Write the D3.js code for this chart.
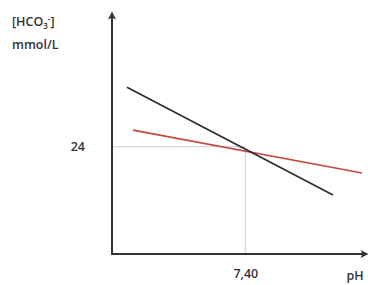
<!DOCTYPE html>
<html>
<head>
<meta charset="utf-8">
<script src="https://cdn.jsdelivr.net/npm/d3@7"></script>
<style>
  body { margin: 0; background: #fff; }
  text { font-family: "Open Sans", sans-serif; fill: #333; font-weight: 600; }
</style>
</head>
<body>
<svg></svg>
<script>
const width = 368,
      height = 285,
      margin = {top: 17, right: 6, bottom: 31, left: 112};

// pH / bicarbonate lines
const blackLine = [[7.045, 37.3], [7.663, 13.2]];
const redLine = [[7.063, 27.7], [7.75, 18.1]];
const refPH = [7.40];
const refHCO3 = [24];

const svg = d3.select("svg")
              .attr("width", width)
              .attr("height", height);

// x runs a little short of the arrow tip
let x = d3.scaleLinear()
          .domain([7.0, 7.75])
          .range([margin.left, 362]);

let y = d3.scaleLinear()
          .domain([0, 53])
          .range([height - margin.bottom, margin.top]);

const comma = d3.formatLocale({decimal: ",", thousands: ".", grouping: [3], currency: ["", ""]});

// arrow heads
svg.append("defs").append("marker")
    .attr("id", "arrow")
    .attr("viewBox", "0 0 10 10")
    .attr("refX", 8)
    .attr("refY", 5)
    .attr("markerWidth", 9)
    .attr("markerHeight", 8)
    .attr("orient", "auto")
    .attr("markerUnits", "userSpaceOnUse")
    .append("path")
    .attr("d", "M0,0 L10,5 L0,10 L2,5 Z")
    .attr("fill", "#333");

// guide lines to the crossing point
svg.append("line")
   .attr("x1", x(7.0)).attr("x2", x(refPH[0]))
   .attr("y1", y(refHCO3[0])).attr("y2", y(refHCO3[0]))
   .attr("stroke", "#cfcfcf").attr("stroke-width", 1);

svg.append("line")
   .attr("x1", x(refPH[0])).attr("x2", x(refPH[0]))
   .attr("y1", y(refHCO3[0])).attr("y2", y(0))
   .attr("stroke", "#cfcfcf").attr("stroke-width", 1);

// tick labels
const xAxis = svg.append("g")
   .attr("transform", "translate(0," + y(0) + ")")
   .call(d3.axisBottom(x).tickValues(refPH).tickSize(0).tickPadding(15)
           .tickFormat(comma.format(".2f")));
xAxis.select(".domain").remove();

const yAxis = svg.append("g")
   .attr("transform", "translate(" + x(7.0) + ",0)")
   .call(d3.axisLeft(y).tickValues(refHCO3).tickSize(0).tickPadding(27));
yAxis.select(".domain").remove();

svg.selectAll(".tick text")
   .attr("font-size", 12.5)
   .attr("font-family", "Open Sans, sans-serif")
   .attr("fill", "#333");

// axis lines with arrows
svg.append("line")
   .attr("x1", x(7.0)).attr("x2", 367)
   .attr("y1", y(0)).attr("y2", y(0))
   .attr("stroke", "#333").attr("stroke-width", 2)
   .attr("marker-end", "url(#arrow)");

svg.append("line")
   .attr("x1", x(7.0)).attr("x2", x(7.0))
   .attr("y1", y(0) + 1).attr("y2", 13)
   .attr("stroke", "#333").attr("stroke-width", 2)
   .attr("marker-end", "url(#arrow)");

// the two lines
const line = d3.line()
               .x((d) => x(d[0]))
               .y((d) => y(d[1]));

svg.append("path")
   .datum(redLine)
   .attr("d", line)
   .attr("fill", "none")
   .attr("stroke", "#c9473c")
   .attr("stroke-width", 1.6);

svg.append("path")
   .datum(blackLine)
   .attr("d", line)
   .attr("fill", "none")
   .attr("stroke", "#2b2b2b")
   .attr("stroke-width", 1.6);

// axis titles
const yTitle = svg.append("text")
   .attr("x", 12)
   .attr("y", 26)
   .attr("font-size", 12.5);
yTitle.append("tspan").text("[HCO");
yTitle.append("tspan").attr("font-size", 8).attr("dy", 3).text("3");
yTitle.append("tspan").attr("font-size", 8).attr("dy", -7).text("-");
yTitle.append("tspan").attr("dy", 4).text("]");

svg.append("text")
   .attr("x", 12)
   .attr("y", 49)
   .attr("font-size", 12.5)
   .text("mmol/L");

svg.append("text")
   .attr("x", 355)
   .attr("y", 280)
   .attr("text-anchor", "middle")
   .attr("font-size", 12.5)
   .text("pH");
</script>
</body>
</html>
